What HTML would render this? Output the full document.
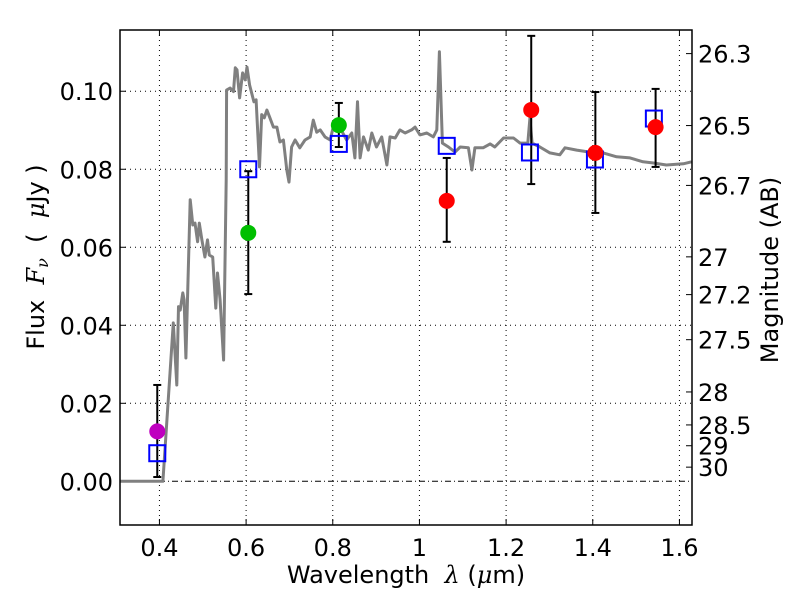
<!DOCTYPE html>
<html><head><meta charset="utf-8"><style>
body{margin:0;background:#fff}
svg text{font-family:"DejaVu Sans","Liberation Sans",sans-serif;fill:#000}
</style></head><body>
<svg id="chart" width="800" height="600" xmlns="http://www.w3.org/2000/svg"></svg>
<script>
const xTicks=[0.4,0.6,0.8,1.0,1.2,1.4,1.6];
const xTickLabels=["0.4","0.6","0.8","1","1.2","1.4","1.6"];
const yTicks=[0,0.02,0.04,0.06,0.08,0.10];
const yTickLabels=["0.00","0.02","0.04","0.06","0.08","0.10"];
const magTicks=[26.3,26.5,26.7,27,27.2,27.5,28,28.5,29,30];
const magTickLabels=["26.3","26.5","26.7","27","27.2","27.5","28","28.5","29","30"];
const specWave=[0.309,0.408,0.432,0.440,0.444,0.448,0.454,0.457,0.461,0.471,0.477,0.482,0.488,0.492,0.498,0.505,0.511,0.515,0.523,0.530,0.534,0.540,0.548,0.554,0.555,0.563,0.571,0.575,0.579,0.585,0.592,0.598,0.602,0.608,0.618,0.623,0.631,0.636,0.642,0.648,0.655,0.663,0.671,0.678,0.686,0.694,0.699,0.705,0.713,0.724,0.736,0.748,0.755,0.763,0.771,0.782,0.794,0.801,0.817,0.832,0.844,0.851,0.857,0.863,0.871,0.882,0.890,0.901,0.913,0.925,0.932,0.944,0.955,0.967,0.982,0.990,1.001,1.017,1.032,1.040,1.046,1.053,1.067,1.082,1.094,1.113,1.121,1.128,1.147,1.163,1.174,1.194,1.217,1.232,1.250,1.255,1.260,1.278,1.301,1.324,1.336,1.363,1.393,1.424,1.455,1.486,1.516,1.540,1.570,1.609,1.628];
const specFlux=[0,0,0.0406,0.0247,0.0448,0.0439,0.0483,0.0465,0.0316,0.0722,0.0657,0.0662,0.0614,0.0662,0.0619,0.0575,0.0619,0.0580,0.0575,0.0444,0.0534,0.0465,0.0311,0.0773,0.1003,0.1008,0.0999,0.1060,0.1055,0.0983,0.1047,0.1029,0.1062,0.1016,0.0973,0.0978,0.0806,0.0940,0.0932,0.0952,0.0932,0.0908,0.0908,0.0870,0.0875,0.0798,0.0767,0.0857,0.0875,0.0855,0.0875,0.0883,0.0926,0.0895,0.0901,0.0883,0.0875,0.0908,0.0906,0.0875,0.0893,0.0829,0.0973,0.0829,0.0883,0.0849,0.0893,0.0857,0.0883,0.0811,0.0883,0.0880,0.0901,0.0893,0.0901,0.0908,0.0888,0.0893,0.0883,0.0901,0.1101,0.0867,0.0857,0.0844,0.0857,0.0855,0.0798,0.0855,0.0855,0.0865,0.0857,0.0880,0.0880,0.0867,0.0867,0.0930,0.0867,0.0857,0.0842,0.0837,0.0855,0.0849,0.0844,0.0842,0.0832,0.0829,0.0819,0.0816,0.0811,0.0814,0.0819];
const modelWave=[0.395,0.605,0.814,1.063,1.255,1.405,1.541];
const modelFlux=[0.0072,0.0800,0.0865,0.0860,0.0843,0.0825,0.0930];
const obsWave=[0.395,0.605,0.814,1.063,1.258,1.406,1.545];
const obsFlux=[0.0128,0.0637,0.0913,0.0719,0.0952,0.0842,0.0908];
const obsErrLo=[0.0011,0.0480,0.0857,0.0614,0.0762,0.0688,0.0806];
const obsErrHi=[0.0247,0.0795,0.0970,0.0829,0.1142,0.0998,0.1006];
const obsColors=["#bf00bf","#00bf00","#00bf00","#ff0000","#ff0000","#ff0000","#ff0000"];

const L=120,R=692,T=30,B=525;
const X0=0.309,X1=1.629,Y0=-0.0112,Y1=0.1157;
const sx=v=>L+(v-X0)/(X1-X0)*(R-L);
const sy=v=>B-(v-Y0)/(Y1-Y0)*(B-T);
const magToFlux=m=>Math.pow(10,(23.9-m)/2.5);
const svg=document.getElementById('chart');
const NS="http://www.w3.org/2000/svg";
function mk(tag,attrs,parent){const e=document.createElementNS(NS,tag);for(const k in attrs)e.setAttribute(k,attrs[k]);(parent||svg).appendChild(e);return e;}
const FS=24;

xTicks.forEach((t,i)=>{
  const g=mk('line',{x1:sx(t),x2:sx(t),y1:T,y2:B,stroke:'#000','stroke-width':1,'stroke-dasharray':'1,4'});
  
  
  const tk=mk('line',{x1:sx(t),x2:sx(t),y1:B,y2:B-6,stroke:'#000'});
  
  
  const tk2=mk('line',{x1:sx(t),x2:sx(t),y1:T,y2:T+6,stroke:'#000'});
  
  
  const lb=mk('text',{x:sx(t),y:B+31,'text-anchor':'middle','font-size':FS});
  lb.textContent=xTickLabels[i];
  
  
});
yTicks.forEach((t,i)=>{
  const g=mk('line',{x1:L,x2:R,y1:sy(t),y2:sy(t),stroke:'#000','stroke-width':1,'stroke-dasharray':t===0?'6,3,1,3':'1,4'});
  
  
  const tk=mk('line',{x1:L,x2:L+6,y1:sy(t),y2:sy(t),stroke:'#000'});
  
  
  const lb=mk('text',{x:L-7,y:sy(t)+9,'text-anchor':'end','font-size':FS});
  lb.textContent=yTickLabels[i];
  
  
});
magTicks.forEach((m,i)=>{
  const y=sy(magToFlux(m));
  const tk=mk('line',{x1:R,x2:R-6,y1:y,y2:y,stroke:'#000'});
  
  
  const lb=mk('text',{x:R+6,y:y+9,'font-size':FS});
  lb.textContent=magTickLabels[i];
  
  
});

const pts=specWave.map((w,i)=>sx(w).toFixed(1)+','+sy(specFlux[i]).toFixed(1)).join(' ');
const sp=mk('polyline',{points:pts,fill:'none',stroke:'#808080','stroke-width':3,'stroke-linejoin':'round'});



obsWave.forEach((w,i)=>{
  const x=sx(w);
  const e=mk('line',{x1:x,x2:x,y1:sy(obsErrLo[i]),y2:sy(obsErrHi[i]),stroke:'#000','stroke-width':2});
  
  
  [obsErrLo[i],obsErrHi[i]].forEach(v=>{
    const c=mk('line',{x1:x-4,x2:x+4,y1:sy(v),y2:sy(v),stroke:'#000','stroke-width':2});
    
    
  });
});
modelWave.forEach((w,i)=>{
  const r=mk('rect',{x:sx(w)-8,y:sy(modelFlux[i])-8,width:16,height:16,fill:'none',stroke:'#0000ff','stroke-width':2});
  
  
});
obsWave.forEach((w,i)=>{
  const c=mk('circle',{cx:sx(w),cy:sy(obsFlux[i]),r:8,fill:obsColors[i]});
  
  
});

const fr=mk('rect',{x:L,y:T,width:R-L,height:B-T,fill:'none',stroke:'#000','stroke-width':1.5});



const xl=mk('text',{x:406,y:583,'text-anchor':'middle','font-size':FS});
xl.innerHTML='Wavelength\u00a0\u00a0<tspan font-style="italic" font-family="DejaVu Serif">λ</tspan> (<tspan font-style="italic" font-family="DejaVu Serif">μ</tspan>m)';


const yl=mk('text',{x:0,y:0,'text-anchor':'middle','font-size':FS,transform:'translate(44,257) rotate(-90)'});
yl.innerHTML='Flux\u00a0\u00a0<tspan font-style="italic" font-family="DejaVu Serif">F</tspan><tspan font-style="italic" font-family="DejaVu Serif" font-size="16" dy="4">ν</tspan><tspan dy="-4">\u00a0\u00a0(\u00a0\u00a0</tspan><tspan font-style="italic" font-family="DejaVu Serif">μ</tspan>Jy )';


const ml=mk('text',{x:0,y:0,'text-anchor':'middle','font-size':FS,transform:'translate(778,270) rotate(-90)'});
ml.textContent='Magnitude (AB)';


</script>
</body></html>
